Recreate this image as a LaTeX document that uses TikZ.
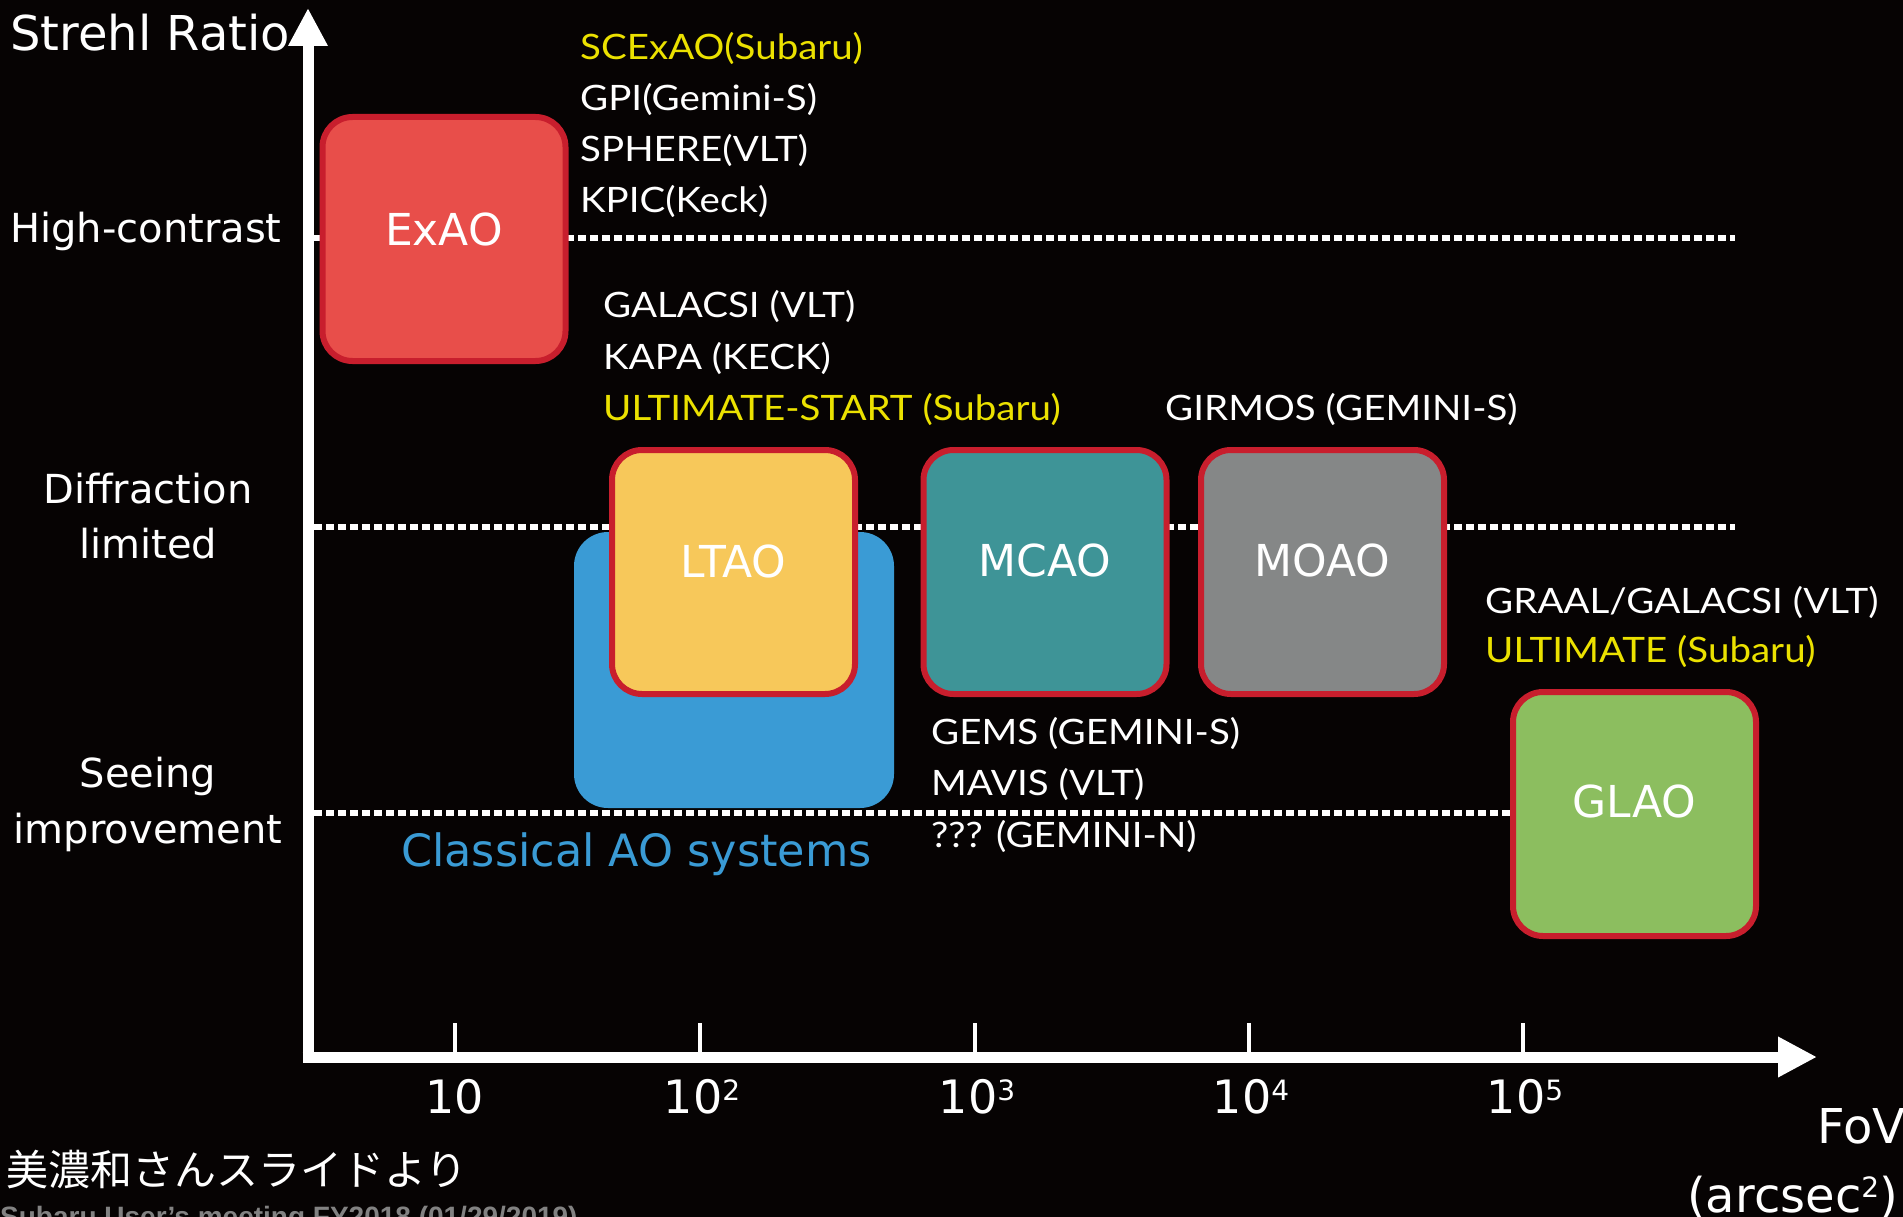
\documentclass[tikz,border=0pt]{standalone}
\usepackage{fontspec}
\setmainfont{DejaVu Sans}
\newfontfamily\annfont[FakeStretch=1.1]{Lato}
\newfontfamily\lblfont{DejaVu Sans}
\newfontfamily\cjkfont{Noto Sans CJK JP}
\newfontfamily\metafont{Liberation Sans}
\usetikzlibrary{arrows.meta}
\definecolor{bgc}{RGB}{6,3,3}
\definecolor{annyellow}{RGB}{235,225,0}
\definecolor{boxred}{RGB}{200,30,45}
\definecolor{exaofill}{RGB}{232,78,74}
\definecolor{ltaofill}{RGB}{247,200,90}
\definecolor{classblue}{RGB}{58,155,213}
\definecolor{mcaofill}{RGB}{62,148,151}
\definecolor{moaofill}{RGB}{133,135,135}
\definecolor{glaofill}{RGB}{140,190,95}
\definecolor{metagrey}{RGB}{130,130,130}
\newcommand\fsz[1]{\fontsize{#1}{#1}\selectfont}
\newcommand\supnum[1]{\raisebox{13pt}{\fsz{28}#1}}
\begin{document}
\begin{tikzpicture}[x=1pt,y=-1pt,
  aobox/.style={draw=boxred, line width=6pt, rounded corners=30pt, inner sep=0pt,
    minimum width=243pt, minimum height=244pt},
  boxlabel/.style={font=\lblfont\fsz{44}, text=white, anchor=base, inner sep=0pt},
  ann/.style={font=\annfont\fsz{35}, text=white, anchor=base west, inner sep=0pt},
  anny/.style={ann, text=annyellow},
  level/.style={font=\lblfont\fsz{40}, text=white, anchor=base, inner sep=0pt},
  ticklabel/.style={font=\lblfont\fsz{46}, text=white, anchor=base, inner sep=0pt},
  dotline/.style={white, line width=6pt, dash pattern=on 7.5pt off 4.5pt},
  axis/.style={white, line width=11pt},
  tickmark/.style={white, line width=3.5pt}]
\useasboundingbox (0,0) rectangle (1903,1217);
\clip (0,0) rectangle (1903,1217);
\fill[bgc] (0,0) rectangle (1903,1217);

% level labels
\node[font=\lblfont\fsz{48}, text=white, anchor=base west, inner sep=0pt] (strehl) at (10,51) {Strehl Ratio};
\node[level, anchor=base west] (hc) at (10,243) {High-contrast};
\node[level] (diff1) at (148,503) {Diffraction};
\node[level] (diff2) at (148,558) {limited};
\node[level] (see1) at (148,787) {Seeing};
\node[level] (see2) at (148,843) {improvement};

% dotted level lines
\coordinate (hcL) at (314,238);
\coordinate (hcR) at (1735,238);
\coordinate (dlL) at (314,527);
\coordinate (dlR) at (1735,527);
\coordinate (siL) at (314,813);
\coordinate (siR) at (1512,813);
\draw[dotline] (hcL) -- (hcR);
\draw[dotline] (dlL) -- (dlR);
\draw[dotline] (siL) -- (siR);

% axes
\coordinate (ytip) at (308,8);
\coordinate (origin) at (308,1057);
\coordinate (xtip) at (1817,1057);
\draw[axis, line join=miter, -{Triangle[length=38pt,width=37pt]}] (origin) -- (ytip);
\draw[axis, -{Triangle[length=39pt,width=38pt]}] ([xshift=-5.5pt]origin) -- (xtip);

% ticks
\foreach \n/\tx in {t1/455,t2/700,t3/975,t4/1249,t5/1523}{
  \coordinate (\n) at (\tx,1023);
  \draw[tickmark] (\n) -- (\tx,1054);
}
\node[ticklabel] (l1) at (455,1113) {10};
\node[ticklabel] (l2) at (702,1113) {10\supnum{2}};
\node[ticklabel] (l3) at (977,1113) {10\supnum{3}};
\node[ticklabel] (l4) at (1251,1113) {10\supnum{4}};
\node[ticklabel] (l5) at (1525,1113) {10\supnum{5}};
\node[font=\lblfont\fsz{48}, text=white, anchor=base west, inner sep=0pt] (fov) at (1817,1143) {FoV};
\node[font=\lblfont\fsz{48}, text=white, anchor=base west, inner sep=0pt] (unit) at (1687,1212) {(arcsec\raisebox{14.6pt}{\fsz{28}2})};

% boxes
\node[fill=classblue, rounded corners=34pt, inner sep=0pt, minimum width=320pt, minimum height=276pt] (classical) at (734,670) {};
\node[aobox, fill=exaofill] (exao) at (444,239) {};
\node[aobox, fill=ltaofill] (ltao) at (733.5,572) {};
\node[aobox, fill=mcaofill] (mcao) at (1045,572) {};
\node[aobox, fill=moaofill] (moao) at (1322.5,572) {};
\node[aobox, fill=glaofill] (glao) at (1634.5,814) {};
\node[boxlabel] (exaot) at (444,245) {ExAO};
\node[boxlabel] (ltaot) at (733.5,577) {LTAO};
\node[boxlabel] (mcaot) at (1045,576) {MCAO};
\node[boxlabel] (moaot) at (1322.5,576) {MOAO};
\node[boxlabel] (glaot) at (1634.5,817) {GLAO};
\node[font=\lblfont\fsz{44.5}, text=classblue, anchor=base west, inner sep=0pt] (classt) at (401,866) {Classical AO systems};

% annotations
\node[anny] (a1) at (580,60) {SCExAO(Subaru)};
\node[ann] (a2) at (580,111) {GPI(Gemini-S)};
\node[ann] (a3) at (580,162) {SPHERE(VLT)};
\node[ann] (a4) at (580,213) {KPIC(Keck)};
\node[ann] (b1) at (603,317) {GALACSI (VLT)};
\node[ann] (b2) at (603,369) {KAPA (KECK)};
\node[anny] (b3) at (603,420) {ULTIMATE-START (Subaru)};
\node[ann] (c1) at (1165,420) {GIRMOS (GEMINI-S)};
\node[ann] (d1) at (1485,613) {GRAAL/GALACSI (VLT)};
\node[anny] (d2) at (1485,662) {ULTIMATE (Subaru)};
\node[ann] (e1) at (931,744) {GEMS (GEMINI-S)};
\node[ann] (e2) at (931,795) {MAVIS (VLT)};
\node[ann] (e3) at (931,847) {??? (GEMINI-N)};

% credits
\node[font=\cjkfont\fsz{42}, text=white, anchor=base west, inner sep=0pt] (jp) at (6,1185) {美濃和さんスライドより};
\node[font=\metafont\bfseries\fsz{28}, text=metagrey, anchor=base west, inner sep=0pt] (meet) at (0,1226) {Subaru User’s meeting FY2018 (01/29/2019)};
\end{tikzpicture}
\end{document}
